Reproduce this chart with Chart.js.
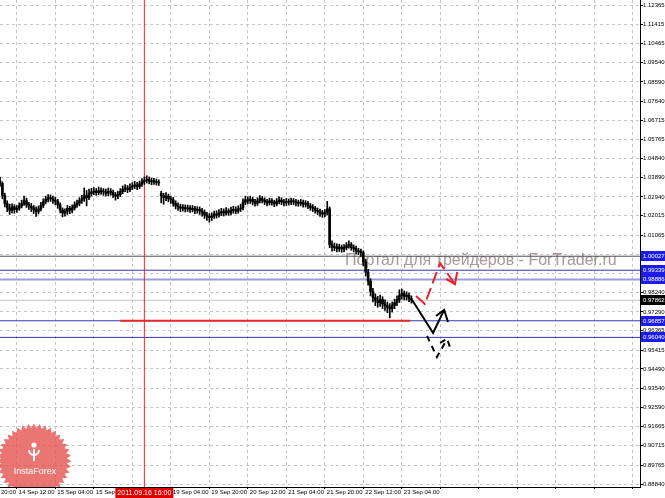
<!DOCTYPE html>
<html><head><meta charset="utf-8">
<script src="https://cdn.jsdelivr.net/npm/chart.js@4.4.1/dist/chart.umd.min.js"></script>
<style>html,body{margin:0;padding:0;background:#fff;}canvas{display:block;}</style>
</head><body>
<canvas id="c" width="665" height="498"></canvas>
<script>
// ---- data (H1 candles, bar index 0 = 14 Sep 12:00) ----
const firstBar = -7;
const opens = [
1.0372,1.0360,1.0300,1.0262,1.0240,1.0228,1.0245,
1.0232,1.0238,1.0250,1.0262,1.0275,1.0255,1.0248,1.0240,1.0230,1.0222,
1.0235,1.0252,1.0270,1.0282,1.0290,1.0285,1.0278,1.0272,1.0255,1.0230,
1.0215,1.0222,1.0238,1.0228,1.0240,1.0255,1.0262,1.0275,1.0285,1.0300,
1.0290,1.0310,1.0318,1.0322,1.0315,1.0325,1.0320,1.0318,1.0312,1.0322,
1.0316,1.0305,1.0298,1.0305,1.0320,1.0332,1.0338,1.0330,1.0342,1.0348,
1.0352,1.0345,1.0358,1.0368,1.0375,1.0380,1.0372,1.0368,1.0370,1.0365,
1.0312,1.0300,1.0290,1.0298,1.0285,1.0280,1.0262,1.0250,1.0245,1.0238,
1.0242,1.0235,1.0240,1.0232,1.0238,1.0228,1.0232,1.0225,1.0218,1.0205,
1.0198,1.0192,1.0200,1.0210,1.0205,1.0215,1.0222,1.0215,1.0225,1.0218,
1.0228,1.0232,1.0225,1.0235,1.0240,1.0268,1.0280,1.0275,1.0282,1.0270,
1.0262,1.0275,1.0285,1.0278,1.0270,1.0265,1.0275,1.0268,1.0260,1.0272,
1.0278,1.0270,1.0265,1.0272,1.0268,1.0275,1.0270,1.0265,1.0262,1.0268,
1.0258,1.0262,1.0250,1.0242,1.0238,1.0228,1.0222,1.0215,1.0210,1.0218,
1.0235,1.0060,1.0045,1.0050,1.0040,1.0048,1.0038,1.0045,1.0055,1.0060,
1.0045,1.0040,1.0030,1.0025,1.0020,0.9975,0.9925,0.9880,0.9830,0.9800,
0.9785,0.9775,0.9790,0.9768,0.9760,0.9752,0.9745,0.9762,0.9775,0.9790,
0.9810,0.9820,0.9805,0.9812,0.9795
];
const highs = [
1.0392,1.0368,1.0312,1.0275,1.0258,1.0260,1.0256,
1.0252,1.0265,1.0278,1.0298,1.0288,1.0268,1.0262,1.0252,1.0245,1.0250,
1.0268,1.0285,1.0298,1.0305,1.0304,1.0298,1.0292,1.0282,1.0265,1.0240,
1.0236,1.0252,1.0248,1.0255,1.0270,1.0278,1.0290,1.0302,1.0338,1.0325,
1.0332,1.0336,1.0340,1.0335,1.0342,1.0338,1.0335,1.0332,1.0338,1.0335,
1.0328,1.0316,1.0322,1.0335,1.0348,1.0354,1.0350,1.0358,1.0364,1.0370,
1.0366,1.0372,1.0384,1.0392,1.0398,1.0392,1.0386,1.0385,1.0382,1.0378,
1.0322,1.0312,1.0315,1.0308,1.0298,1.0292,1.0275,1.0265,1.0258,1.0256,
1.0255,1.0254,1.0252,1.0252,1.0248,1.0246,1.0245,1.0238,1.0230,1.0218,
1.0212,1.0216,1.0225,1.0226,1.0232,1.0238,1.0235,1.0242,1.0236,1.0244,
1.0248,1.0245,1.0250,1.0258,1.0285,1.0298,1.0294,1.0298,1.0292,1.0282,
1.0290,1.0300,1.0296,1.0290,1.0282,1.0288,1.0286,1.0278,1.0286,1.0294,
1.0290,1.0282,1.0286,1.0284,1.0288,1.0286,1.0282,1.0278,1.0282,1.0278,
1.0276,1.0272,1.0262,1.0256,1.0248,1.0240,1.0234,1.0228,1.0232,1.0272,
1.0245,1.0078,1.0068,1.0064,1.0062,1.0058,1.0060,1.0070,1.0078,1.0070,
1.0058,1.0052,1.0042,1.0038,1.0030,0.9988,0.9938,0.9892,0.9845,0.9818,
0.9806,0.9812,0.9804,0.9788,0.9778,0.9770,0.9778,0.9792,0.9808,0.9838,
0.9842,0.9832,0.9828,0.9822,0.9808
];
const lows = [
1.0345,1.0285,1.0245,1.0222,1.0208,1.0215,1.0214,
1.0218,1.0228,1.0240,1.0252,1.0242,1.0232,1.0222,1.0212,1.0198,1.0210,
1.0225,1.0242,1.0260,1.0270,1.0272,1.0262,1.0255,1.0238,1.0215,1.0196,
1.0200,1.0208,1.0212,1.0215,1.0230,1.0242,1.0250,1.0262,1.0272,1.0250,
1.0280,1.0298,1.0305,1.0302,1.0305,1.0306,1.0302,1.0298,1.0300,1.0302,
1.0290,1.0278,1.0285,1.0295,1.0310,1.0320,1.0315,1.0320,1.0330,1.0335,
1.0330,1.0335,1.0346,1.0355,1.0362,1.0358,1.0354,1.0355,1.0352,1.0350,
1.0265,1.0258,1.0275,1.0270,1.0262,1.0248,1.0235,1.0228,1.0222,1.0224,
1.0220,1.0222,1.0218,1.0220,1.0212,1.0214,1.0208,1.0200,1.0188,1.0178,
1.0170,1.0178,1.0188,1.0190,1.0194,1.0202,1.0200,1.0204,1.0204,1.0206,
1.0214,1.0212,1.0214,1.0222,1.0230,1.0256,1.0260,1.0262,1.0255,1.0248,
1.0252,1.0264,1.0264,1.0256,1.0250,1.0254,1.0254,1.0246,1.0250,1.0260,
1.0256,1.0250,1.0252,1.0254,1.0256,1.0256,1.0250,1.0248,1.0250,1.0244,
1.0244,1.0236,1.0228,1.0222,1.0214,1.0206,1.0198,1.0194,1.0196,1.0205,
1.0045,1.0028,1.0030,1.0024,1.0026,1.0022,1.0024,1.0034,1.0042,1.0032,
1.0024,1.0014,1.0010,1.0002,0.9955,0.9905,0.9860,0.9808,0.9778,0.9760,
0.9752,0.9756,0.9746,0.9736,0.9725,0.9700,0.9728,0.9745,0.9760,0.9776,
0.9792,0.9788,0.9788,0.9780,0.9772
];
const closes = [
1.0360,1.0300,1.0262,1.0240,1.0228,1.0245,1.0232,
1.0238,1.0250,1.0262,1.0275,1.0255,1.0248,1.0240,1.0230,1.0222,1.0235,
1.0252,1.0270,1.0282,1.0290,1.0285,1.0278,1.0272,1.0255,1.0230,1.0215,
1.0222,1.0238,1.0228,1.0240,1.0255,1.0262,1.0275,1.0285,1.0300,1.0290,
1.0310,1.0318,1.0322,1.0315,1.0325,1.0320,1.0318,1.0312,1.0322,1.0316,
1.0305,1.0298,1.0305,1.0320,1.0332,1.0338,1.0330,1.0342,1.0348,1.0352,
1.0345,1.0358,1.0368,1.0375,1.0380,1.0372,1.0368,1.0370,1.0365,1.0362,
1.0300,1.0290,1.0298,1.0285,1.0280,1.0262,1.0250,1.0245,1.0238,1.0242,
1.0235,1.0240,1.0232,1.0238,1.0228,1.0232,1.0225,1.0218,1.0205,1.0198,
1.0192,1.0200,1.0210,1.0205,1.0215,1.0222,1.0215,1.0225,1.0218,1.0228,
1.0232,1.0225,1.0235,1.0240,1.0268,1.0280,1.0275,1.0282,1.0270,1.0262,
1.0275,1.0285,1.0278,1.0270,1.0265,1.0275,1.0268,1.0260,1.0272,1.0278,
1.0270,1.0265,1.0272,1.0268,1.0275,1.0270,1.0265,1.0262,1.0268,1.0258,
1.0262,1.0250,1.0242,1.0238,1.0228,1.0222,1.0215,1.0210,1.0218,1.0235,
1.0060,1.0045,1.0050,1.0040,1.0048,1.0038,1.0045,1.0055,1.0060,1.0045,
1.0040,1.0030,1.0025,1.0020,0.9975,0.9925,0.9880,0.9830,0.9800,0.9785,
0.9775,0.9790,0.9768,0.9760,0.9752,0.9745,0.9762,0.9775,0.9790,0.9810,
0.9820,0.9805,0.9812,0.9795,0.9786
];

const xTickValues = [-16,0,16,32,48,64,80,96,112,128,144,160,176,192,208,224,240,256];
const xTickLabels = ['13 Sep 20:00','14 Sep 12:00','15 Sep 04:00','15 Sep 20:00','16 Sep 12:00',
  '19 Sep 04:00','19 Sep 20:00','20 Sep 12:00','21 Sep 04:00','21 Sep 20:00','22 Sep 12:00','23 Sep 04:00',
  '','','','','',''];
const yTickValues = [1.12365,1.11415,1.10465,1.09540,1.08590,1.07640,1.06715,1.05765,1.04840,1.03890,
  1.02940,1.02015,1.01065,1.00115,0.99190,0.98240,0.97290,0.96365,0.95415,0.94490,0.93540,0.92590,
  0.91665,0.90715,0.89765,0.88840];

const levelValues = [1.00027, 0.99339, 0.98886, 0.97862, 0.96857, 0.96040];
const supportSegment = [[43, 0.96857], [163.5, 0.96857]];
const crosshairBar = 53;
const crosshairLabel = '2011.09.16 16:00';
const arrowBlackMain = [[164.3,0.9788],[173.0,0.9626],[177.6,0.9739]];
const arrowBlackHead = [[174.2,0.9709],[177.6,0.9739],[179.2,0.9680]];
const arrowBlackDash = [[170.5,0.9611],[174.6,0.9508],[178.8,0.9596]];
const arrowBlackDashHead = [[175.9,0.9577],[178.8,0.9596],[180.5,0.9542]];
const arrowRed = [[165.9,0.9807],[169.6,0.9768],[175.9,0.9969],[182.1,0.9866]];
const arrowRedHead = [[178.4,0.9891],[182.1,0.9866],[183.0,0.9925]];
const watermark = 'Портал для трейдеров - ForTrader.ru';
const logoText = 'InstaForex';

// ---- styles ----
const X_MIN = -7, X_MAX = 259, Y_MIN = 0.88693, Y_MAX = 1.12611;
const levelColors = ['#505050','#3636b4','#9c9cdc','#c4c4c4','#3636b4','#3636b4'];
const levelWidths = [1,1,2,1,1,1];
const levelBoxColors = ['#1c1ce8','#1c1ce8','#1c1ce8','#000000','#1c1ce8','#1c1ce8'];
const FONT = 'Liberation Sans';

const pts = arr => arr.map(p => ({x: p[0], y: p[1]}));
const idx = opens.map((_, i) => firstBar + i);

const datasets = [];
levelValues.forEach((v, k) => {
  datasets.push({type:'line', data:[{x:X_MIN,y:v},{x:X_MAX,y:v}], borderColor:levelColors[k],
    borderWidth:levelWidths[k], pointRadius:0, order:10});
});
datasets.push({type:'line', data:[{x:crosshairBar,y:Y_MIN},{x:crosshairBar,y:Y_MAX}], borderColor:'#ff2020',
  borderWidth:1, pointRadius:0, order:9});
datasets.push({type:'bar', data: idx.map((x,i)=>({x, y:[lows[i], highs[i]]})), backgroundColor:'#000',
  barThickness:1, grouped:false, order:5});
datasets.push({type:'bar', data: idx.map((x,i)=>({x, y:[opens[i], closes[i]]})), backgroundColor:'#000',
  barThickness:2, minBarLength:1, grouped:false, order:5});
datasets.push({type:'line', data:pts(supportSegment), borderColor:'#e8282a', borderWidth:2, pointRadius:0, order:4});
const arrowDs = (d, color, dash) => ({type:'line', data:pts(d), borderColor:color, borderWidth:2, borderDash:dash,
  pointRadius:0, tension:0, order:1, borderCapStyle:'butt', borderJoinStyle:'miter'});
datasets.push(arrowDs(arrowBlackMain, '#000', []));
datasets.push(arrowDs(arrowBlackHead, '#000', []));
datasets.push(arrowDs(arrowBlackDash, '#000', [6,5]));
datasets.push(arrowDs(arrowBlackDashHead, '#000', [6,4]));
datasets.push(arrowDs(arrowRed, '#e8202a', [12,5]));
datasets.push(arrowDs(arrowRedHead, '#e8202a', []));

const decor = {
  id:'decor',
  beforeDraw(chart){
    const c = chart.ctx; c.save(); c.fillStyle='#fff'; c.fillRect(0,0,chart.width,chart.height); c.restore();
  },
  beforeDatasetsDraw(chart){
    const c = chart.ctx, xs = chart.scales.x, ys = chart.scales.y;
    c.save();
    c.font = '16px "' + FONT + '"';
    c.fillStyle = 'rgba(140,118,118,0.75)';
    c.textBaseline = 'alphabetic';
    c.fillText(watermark, xs.getPixelForValue(136.4), ys.getPixelForValue(0.9962));
    c.restore();
  },
  afterDatasetsDraw(chart){
    const c = chart.ctx, a = chart.chartArea;
    c.save();
    c.beginPath(); c.rect(a.left, a.top, a.right-a.left, a.bottom-a.top); c.clip();
    const cx = 34, cy = 461, n = 40;
    c.beginPath();
    for (let i = 0; i < n*2; i++) {
      const r = i % 2 ? 33 : 37.5;
      const t = -Math.PI/2 + i * Math.PI / n;
      const px = cx + r*Math.cos(t), py = cy + r*Math.sin(t);
      i ? c.lineTo(px,py) : c.moveTo(px,py);
    }
    c.closePath();
    c.fillStyle = 'rgba(228,80,76,0.78)'; c.fill();
    c.fillStyle = '#fff'; c.strokeStyle = '#fff';
    c.beginPath(); c.arc(cx, 445, 2.6, 0, Math.PI*2); c.fill();
    c.lineWidth = 2;
    c.beginPath(); c.arc(cx, 450, 5, 0, Math.PI); c.stroke();
    c.beginPath(); c.moveTo(cx, 449); c.lineTo(cx, 461); c.stroke();
    c.font = '9px "' + FONT + '"'; c.textAlign = 'center'; c.textBaseline = 'middle';
    c.fillText(logoText, cx+1, 472);
    c.restore();
  },
  afterDraw(chart){
    const c = chart.ctx, xs = chart.scales.x, ys = chart.scales.y, a = chart.chartArea;
    c.save();
    c.font = '6px "' + FONT + '"';
    c.textBaseline = 'middle';
    levelValues.forEach((v,k) => {
      const y = Math.round(ys.getPixelForValue(v));
      c.fillStyle = levelBoxColors[k];
      c.fillRect(a.right+1, y-5, 30, 10);
      c.fillStyle = '#fff'; c.textAlign = 'left';
      c.fillText(v.toFixed(5), a.right+3, y+0.5);
    });
    const x = xs.getPixelForValue(crosshairBar);
    c.fillStyle = '#e00000';
    c.fillRect(x-29, a.bottom+1, 58, 11);
    c.fillStyle = '#fff'; c.textAlign = 'center';
    c.font = '7px "' + FONT + '"';
    c.fillText(crosshairLabel, x, a.bottom+6.5);
    c.restore();
  }
};

new Chart(document.getElementById('c'), {
  type:'bar',
  data:{datasets},
  options:{
    responsive:false, animation:false, events:[],
    layout:{padding:0},
    plugins:{legend:{display:false}, tooltip:{enabled:false}},
    scales:{
      x:{type:'linear', min:X_MIN, max:X_MAX, offset:false, position:'bottom',
        afterBuildTicks: s => { s.ticks = xTickValues.map(v => ({value:v})); },
        afterFit: s => { s.height = 11; s.paddingLeft = 0; s.paddingRight = 0; },
        ticks:{autoSkip:false, maxRotation:0, minRotation:0, align:'start', labelOffset:2, padding:0,
          font:{family:FONT, size:6}, color:'#000', callback:(v,i) => xTickLabels[i]},
        grid:{offset:false, color:'#c6c6c6', tickLength:2, tickColor:'#000', tickBorderDash:[], tickWidth:1},
        border:{display:true, color:'#000', width:1, dash:[3,3]}
      },
      y:{type:'linear', position:'right', min:Y_MIN, max:Y_MAX, beginAtZero:false,
        afterBuildTicks: s => { s.ticks = yTickValues.map(v => ({value:v})); },
        afterFit: s => { s.width = 25; s.paddingTop = 0; s.paddingBottom = 0; },
        ticks:{autoSkip:false, padding:0, font:{family:FONT, size:6}, color:'#000',
          callback: v => v.toFixed(5)},
        grid:{color:'#c6c6c6', tickLength:3, tickColor:'#000', tickBorderDash:[], tickWidth:1},
        border:{display:true, color:'#000', width:1, dash:[3,3]}
      }
    }
  },
  plugins:[decor]
});
</script>
</body></html>
